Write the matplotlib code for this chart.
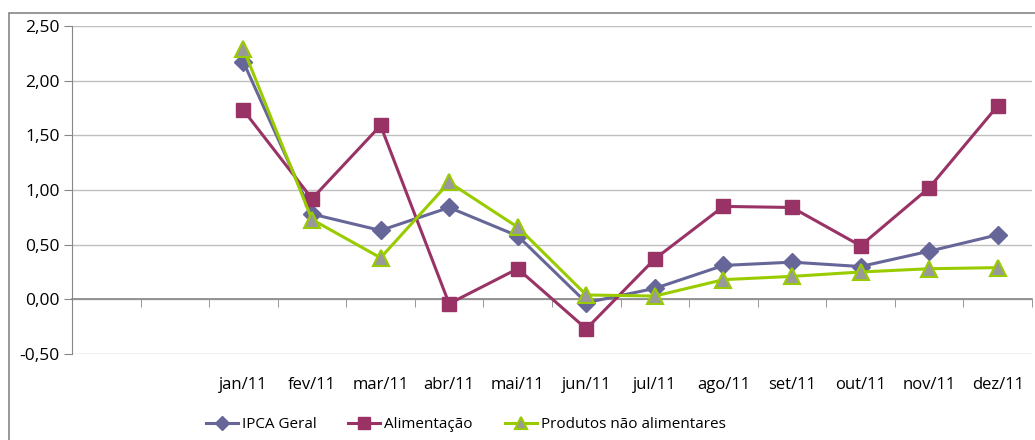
import matplotlib.pyplot as plt
from matplotlib.patches import Rectangle
from matplotlib.ticker import FuncFormatter

plt.rcParams['font.family'] = ['Open Sans', 'DejaVu Sans']

# categorias (duas vazias antes de jan/11, como no gráfico original)
meses = ["", "", "jan/11", "fev/11", "mar/11", "abr/11", "mai/11", "jun/11",
         "jul/11", "ago/11", "set/11", "out/11", "nov/11", "dez/11"]

ipca_geral = [2.17, 0.78, 0.63, 0.84, 0.58, -0.03, 0.10, 0.31, 0.34, 0.30, 0.44, 0.59]
alimentacao = [1.73, 0.92, 1.59, -0.04, 0.28, -0.27, 0.37, 0.85, 0.84, 0.49, 1.02, 1.77]
nao_alimentares = [2.29, 0.73, 0.38, 1.07, 0.66, 0.04, 0.03, 0.18, 0.21, 0.25, 0.28, 0.29]

x = list(range(2, len(meses)))

fig = plt.figure(figsize=(10.35, 4.4), dpi=100)
ax = fig.add_axes([72 / 1035, 1 - 354 / 440, 960 / 1035, 328 / 440])

# moldura externa (corta na direita e embaixo)
fig.patches.append(Rectangle((9 / 1035, -0.1), 1.2, 1.1 - 13 / 440,
                             transform=fig.transFigure, fill=False,
                             edgecolor="#868686", linewidth=1.2))

ax.plot(x, ipca_geral, color="#666699", linewidth=2.2, marker="D",
        markersize=9, markerfacecolor="#666699", markeredgecolor="#666699",
        label="IPCA Geral", zorder=3)
ax.plot(x, alimentacao, color="#993366", linewidth=2.2, marker="s",
        markersize=10, markerfacecolor="#993366", markeredgecolor="#993366",
        label="Alimentação", zorder=3)
ax.plot(x, nao_alimentares, color="#99CC00", linewidth=2.2, marker="^",
        markersize=11, markerfacecolor="#999999", markeredgecolor="#99CC00",
        markeredgewidth=1.5, label="Produtos não alimentares", zorder=3)

ax.set_xlim(-0.5, len(meses) - 0.5)
ax.set_ylim(-0.5, 2.5)
ax.set_yticks([-0.5, 0, 0.5, 1.0, 1.5, 2.0, 2.5])
ax.yaxis.set_major_formatter(FuncFormatter(lambda v, p: f"{v:.2f}".replace(".", ",")))
ax.yaxis.grid(True, color="#BFBFBF", linewidth=1)
ax.set_axisbelow(True)

for s in ["top", "right"]:
    ax.spines[s].set_visible(False)
ax.spines["left"].set_color("#868686")
ax.spines["bottom"].set_position(("data", 0))
ax.spines["bottom"].set_color("#868686")
ax.spines["bottom"].set_linewidth(1.2)

ax.set_xticks(range(len(meses)))
ax.set_xticklabels(meses)
ax.set_xticks([i + 0.5 for i in range(len(meses))], minor=True)
ax.tick_params(axis="x", which="major", length=0, pad=56, labelsize=12)
ax.tick_params(axis="x", which="minor", length=6, color="#868686", direction="out")
ax.tick_params(axis="y", length=6, color="#868686", labelsize=12.5, pad=3)

ax.legend(loc="upper center", bbox_to_anchor=(0.41, -0.15), ncol=3,
          frameon=False, fontsize=11, handlelength=2.1, columnspacing=2.1,
          handletextpad=0.25, markerscale=0.8)

fig.savefig("out.png", dpi=100)
